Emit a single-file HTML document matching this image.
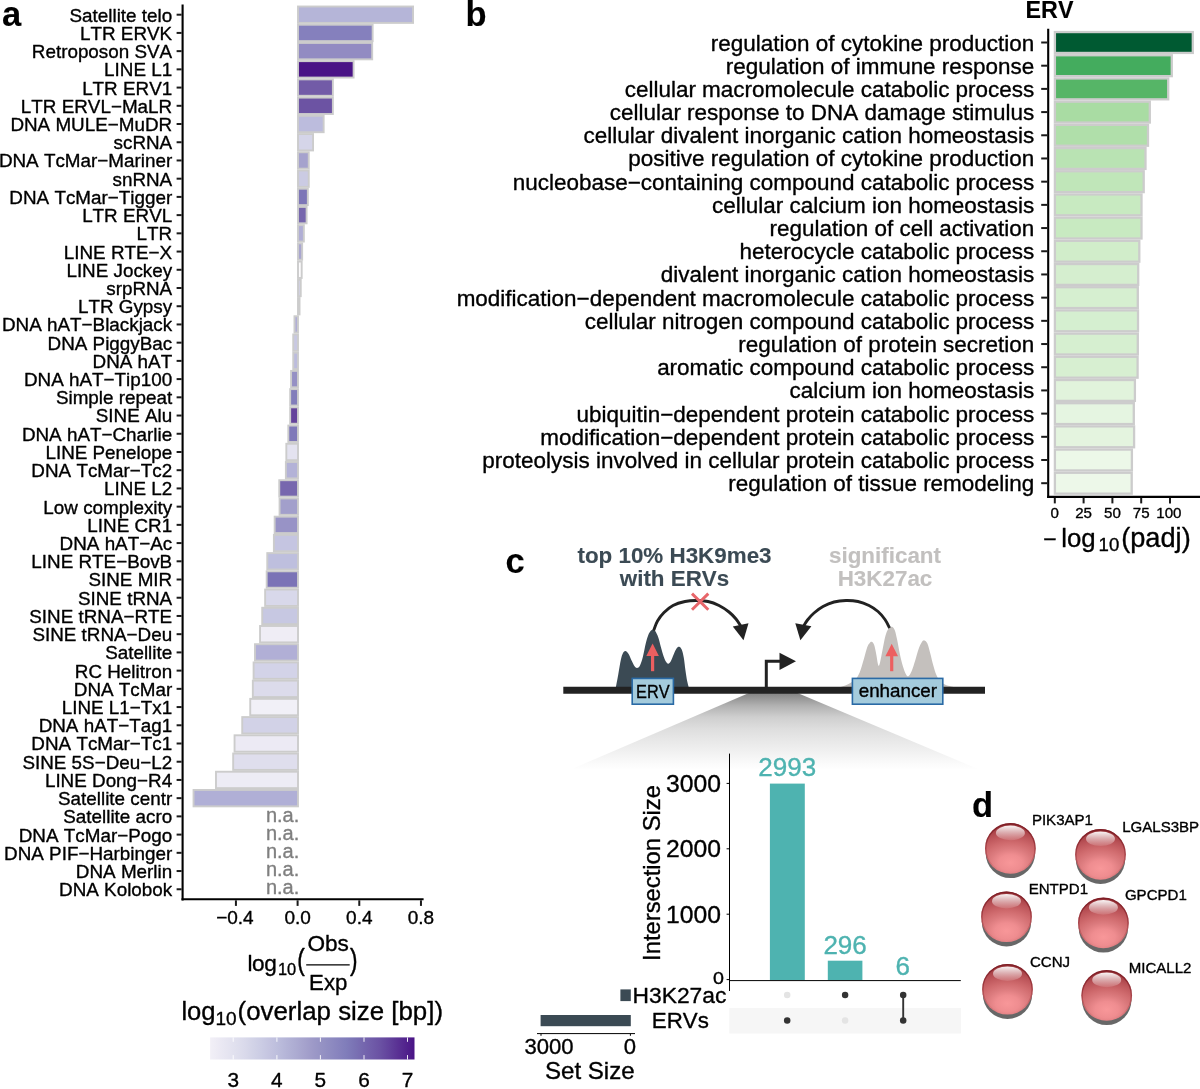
<!DOCTYPE html>
<html lang="en"><head><meta charset="utf-8"><title>Figure</title>
<style>
html,body{margin:0;padding:0;background:#fff;}
svg{display:block;font-family:"Liberation Sans", Arial, Helvetica, sans-serif;font-kerning:none;}
text{fill:currentColor;stroke:currentColor;stroke-width:0.35px;stroke-linejoin:round;}
.b,.b text{stroke-width:0.12px;}
</style></head>
<body>
<svg width="1200" height="1089" viewBox="0 0 1200 1089">
<rect width="1200" height="1089" fill="#fff"/>
<g id="panel-a">
<text x="2" y="26" class="b" font-size="34.5" font-weight="bold">a</text>
<g stroke="#cccccc" stroke-width="1.9">
<rect x="298.00" y="6.50" width="115.05" height="16.40" fill="#b5b5d8"/>
<rect x="298.00" y="24.72" width="74.65" height="16.40" fill="#8580bd"/>
<rect x="298.00" y="42.94" width="74.19" height="16.40" fill="#928bc2"/>
<rect x="298.00" y="61.16" width="55.60" height="16.40" fill="#4a1486"/>
<rect x="298.00" y="79.38" width="34.87" height="16.40" fill="#725ba7"/>
<rect x="298.00" y="97.60" width="34.87" height="16.40" fill="#6c53a3"/>
<rect x="298.00" y="115.82" width="25.65" height="16.40" fill="#bcbcdd"/>
<rect x="298.00" y="134.04" width="15.05" height="16.40" fill="#d5d5e9"/>
<rect x="298.00" y="152.26" width="10.75" height="16.40" fill="#a5a2cd"/>
<rect x="298.00" y="170.48" width="10.75" height="16.40" fill="#cbcbe3"/>
<rect x="298.00" y="188.70" width="9.83" height="16.40" fill="#7d76b7"/>
<rect x="298.00" y="206.92" width="8.60" height="16.40" fill="#7666ad"/>
<rect x="298.00" y="225.14" width="5.84" height="16.40" fill="#b0aed5"/>
<rect x="298.00" y="243.36" width="4.15" height="16.40" fill="#a9a6cf"/>
<rect x="298.00" y="261.58" width="3.69" height="16.40" fill="#fcfbfd"/>
<rect x="298.00" y="279.80" width="2.76" height="16.40" fill="#d0d0e6"/>
<rect x="298.00" y="298.02" width="1.54" height="16.40" fill="#d0d0e6"/>
<rect x="294.47" y="316.24" width="3.53" height="16.40" fill="#b0aed5"/>
<rect x="293.24" y="334.46" width="4.76" height="16.40" fill="#c8c8e2"/>
<rect x="293.24" y="352.68" width="4.76" height="16.40" fill="#bcbcdd"/>
<rect x="291.09" y="370.90" width="6.91" height="16.40" fill="#9590c4"/>
<rect x="290.17" y="389.12" width="7.83" height="16.40" fill="#827dba"/>
<rect x="290.17" y="407.34" width="7.83" height="16.40" fill="#64439b"/>
<rect x="288.32" y="425.56" width="9.68" height="16.40" fill="#7f79b9"/>
<rect x="286.33" y="443.78" width="11.67" height="16.40" fill="#e4e3f0"/>
<rect x="285.87" y="462.00" width="12.13" height="16.40" fill="#b3b2d7"/>
<rect x="279.26" y="480.22" width="18.74" height="16.40" fill="#7767ae"/>
<rect x="279.57" y="498.44" width="18.43" height="16.40" fill="#a29fcb"/>
<rect x="274.65" y="516.66" width="23.35" height="16.40" fill="#9893c6"/>
<rect x="273.88" y="534.88" width="24.12" height="16.40" fill="#c5c5e1"/>
<rect x="267.28" y="553.10" width="30.72" height="16.40" fill="#bebfde"/>
<rect x="266.67" y="571.32" width="31.33" height="16.40" fill="#7b73b6"/>
<rect x="265.13" y="589.54" width="32.87" height="16.40" fill="#d8d8ea"/>
<rect x="262.21" y="607.76" width="35.79" height="16.40" fill="#c7c8e2"/>
<rect x="260.06" y="625.98" width="37.94" height="16.40" fill="#efedf5"/>
<rect x="254.99" y="644.20" width="43.01" height="16.40" fill="#b1afd6"/>
<rect x="253.61" y="662.42" width="44.39" height="16.40" fill="#d3d3e8"/>
<rect x="252.84" y="680.64" width="45.16" height="16.40" fill="#dcdbeb"/>
<rect x="250.23" y="698.86" width="47.77" height="16.40" fill="#f1f0f7"/>
<rect x="242.24" y="717.08" width="55.76" height="16.40" fill="#d2d2e7"/>
<rect x="234.56" y="735.30" width="63.44" height="16.40" fill="#eceaf4"/>
<rect x="233.18" y="753.52" width="64.82" height="16.40" fill="#dfdeed"/>
<rect x="215.98" y="771.74" width="82.02" height="16.40" fill="#edecf5"/>
<rect x="193.55" y="789.96" width="104.45" height="16.40" fill="#b0afd6"/>
</g>
<g font-size="18.85" text-anchor="end">
<text x="172.2" y="21.65">Satellite telo</text>
<text x="172.2" y="39.87">LTR ERVK</text>
<text x="172.2" y="58.09">Retroposon SVA</text>
<text x="172.2" y="76.31">LINE L1</text>
<text x="172.2" y="94.53">LTR ERV1</text>
<text x="172.2" y="112.75">LTR ERVL−MaLR</text>
<text x="172.2" y="130.97">DNA MULE−MuDR</text>
<text x="172.2" y="149.19">scRNA</text>
<text x="172.2" y="167.41">DNA TcMar−Mariner</text>
<text x="172.2" y="185.63">snRNA</text>
<text x="172.2" y="203.85">DNA TcMar−Tigger</text>
<text x="172.2" y="222.07">LTR ERVL</text>
<text x="172.2" y="240.29">LTR</text>
<text x="172.2" y="258.51">LINE RTE−X</text>
<text x="172.2" y="276.73">LINE Jockey</text>
<text x="172.2" y="294.95">srpRNA</text>
<text x="172.2" y="313.17">LTR Gypsy</text>
<text x="172.2" y="331.39">DNA hAT−Blackjack</text>
<text x="172.2" y="349.61">DNA PiggyBac</text>
<text x="172.2" y="367.83">DNA hAT</text>
<text x="172.2" y="386.05">DNA hAT−Tip100</text>
<text x="172.2" y="404.27">Simple repeat</text>
<text x="172.2" y="422.49">SINE Alu</text>
<text x="172.2" y="440.71">DNA hAT−Charlie</text>
<text x="172.2" y="458.93">LINE Penelope</text>
<text x="172.2" y="477.15">DNA TcMar−Tc2</text>
<text x="172.2" y="495.37">LINE L2</text>
<text x="172.2" y="513.59">Low complexity</text>
<text x="172.2" y="531.81">LINE CR1</text>
<text x="172.2" y="550.03">DNA hAT−Ac</text>
<text x="172.2" y="568.25">LINE RTE−BovB</text>
<text x="172.2" y="586.47">SINE MIR</text>
<text x="172.2" y="604.69">SINE tRNA</text>
<text x="172.2" y="622.91">SINE tRNA−RTE</text>
<text x="172.2" y="641.13">SINE tRNA−Deu</text>
<text x="172.2" y="659.35">Satellite</text>
<text x="172.2" y="677.57">RC Helitron</text>
<text x="172.2" y="695.79">DNA TcMar</text>
<text x="172.2" y="714.01">LINE L1−Tx1</text>
<text x="172.2" y="732.23">DNA hAT−Tag1</text>
<text x="172.2" y="750.45">DNA TcMar−Tc1</text>
<text x="172.2" y="768.67">SINE 5S−Deu−L2</text>
<text x="172.2" y="786.89">LINE Dong−R4</text>
<text x="172.2" y="805.11">Satellite centr</text>
<text x="172.2" y="823.33">Satellite acro</text>
<text x="172.2" y="841.55">DNA TcMar−Pogo</text>
<text x="172.2" y="859.77">DNA PIF−Harbinger</text>
<text x="172.2" y="877.99">DNA Merlin</text>
<text x="172.2" y="896.21">DNA Kolobok</text>
</g>
<g font-size="20" text-anchor="end" color="#7f7f7f">
<text x="299.3" y="821.58">n.a.</text>
<text x="299.3" y="839.80">n.a.</text>
<text x="299.3" y="858.02">n.a.</text>
<text x="299.3" y="876.24">n.a.</text>
<text x="299.3" y="894.46">n.a.</text>
</g>
<g stroke="#000" stroke-width="2.1" fill="none">
<path d="M182.6 4.5 V900.4"/>
<path d="M181.5 899.3 H423.6"/>
</g>
<g stroke="#1a1a1a" stroke-width="2" fill="none">
<path d="M176.6 14.70 H181.6"/>
<path d="M176.6 32.92 H181.6"/>
<path d="M176.6 51.14 H181.6"/>
<path d="M176.6 69.36 H181.6"/>
<path d="M176.6 87.58 H181.6"/>
<path d="M176.6 105.80 H181.6"/>
<path d="M176.6 124.02 H181.6"/>
<path d="M176.6 142.24 H181.6"/>
<path d="M176.6 160.46 H181.6"/>
<path d="M176.6 178.68 H181.6"/>
<path d="M176.6 196.90 H181.6"/>
<path d="M176.6 215.12 H181.6"/>
<path d="M176.6 233.34 H181.6"/>
<path d="M176.6 251.56 H181.6"/>
<path d="M176.6 269.78 H181.6"/>
<path d="M176.6 288.00 H181.6"/>
<path d="M176.6 306.22 H181.6"/>
<path d="M176.6 324.44 H181.6"/>
<path d="M176.6 342.66 H181.6"/>
<path d="M176.6 360.88 H181.6"/>
<path d="M176.6 379.10 H181.6"/>
<path d="M176.6 397.32 H181.6"/>
<path d="M176.6 415.54 H181.6"/>
<path d="M176.6 433.76 H181.6"/>
<path d="M176.6 451.98 H181.6"/>
<path d="M176.6 470.20 H181.6"/>
<path d="M176.6 488.42 H181.6"/>
<path d="M176.6 506.64 H181.6"/>
<path d="M176.6 524.86 H181.6"/>
<path d="M176.6 543.08 H181.6"/>
<path d="M176.6 561.30 H181.6"/>
<path d="M176.6 579.52 H181.6"/>
<path d="M176.6 597.74 H181.6"/>
<path d="M176.6 615.96 H181.6"/>
<path d="M176.6 634.18 H181.6"/>
<path d="M176.6 652.40 H181.6"/>
<path d="M176.6 670.62 H181.6"/>
<path d="M176.6 688.84 H181.6"/>
<path d="M176.6 707.06 H181.6"/>
<path d="M176.6 725.28 H181.6"/>
<path d="M176.6 743.50 H181.6"/>
<path d="M176.6 761.72 H181.6"/>
<path d="M176.6 779.94 H181.6"/>
<path d="M176.6 798.16 H181.6"/>
<path d="M176.6 816.38 H181.6"/>
<path d="M176.6 834.60 H181.6"/>
<path d="M176.6 852.82 H181.6"/>
<path d="M176.6 871.04 H181.6"/>
<path d="M176.6 889.26 H181.6"/>
<path d="M235.92 900.3 V905.9"/>
<path d="M297.60 900.3 V905.9"/>
<path d="M359.28 900.3 V905.9"/>
<path d="M420.96 900.3 V905.9"/>
</g>
<g font-size="19" text-anchor="middle">
<text x="234.92" y="923.8">−0.4</text>
<text x="297.60" y="923.8">0.0</text>
<text x="359.28" y="923.8">0.4</text>
<text x="420.96" y="923.8">0.8</text>
</g>
<g font-size="22.6">
<text x="247.4" y="970.7" textLength="29.4" lengthAdjust="spacing">log</text>
<text x="278" y="975" font-size="16.4" textLength="18.2" lengthAdjust="spacing">10</text>
<text transform="translate(297.2 970.4) scale(1 1.3)" font-size="22.6">(</text>
<text transform="translate(350.0 970.4) scale(1 1.3)" font-size="22.6">)</text>
<text x="328.2" y="951" text-anchor="middle" font-size="22.6">Obs</text>
<text x="328.2" y="989.5" text-anchor="middle" font-size="22.2">Exp</text>
<path d="M306.2 964.8 H349.7" stroke="#000" stroke-width="1.3"/>
</g>
<text x="181.4" y="1020.3" font-size="25.6">log</text>
<text x="215.4" y="1025.2" font-size="19">10</text>
<text x="237.6" y="1020.3" font-size="25.85">(overlap size [bp])</text>
<defs><linearGradient id="pg" x1="0" x2="1" y1="0" y2="0">
<stop offset="0.0000" stop-color="#f2f0f7"/>
<stop offset="0.0417" stop-color="#eceaf4"/>
<stop offset="0.0833" stop-color="#e6e5f1"/>
<stop offset="0.1250" stop-color="#e0e0ee"/>
<stop offset="0.1667" stop-color="#dadaeb"/>
<stop offset="0.2083" stop-color="#d2d3e7"/>
<stop offset="0.2500" stop-color="#cbcce4"/>
<stop offset="0.2917" stop-color="#c4c4e0"/>
<stop offset="0.3333" stop-color="#bcbddc"/>
<stop offset="0.3750" stop-color="#b4b4d7"/>
<stop offset="0.4167" stop-color="#adacd2"/>
<stop offset="0.4583" stop-color="#a6a3cd"/>
<stop offset="0.5000" stop-color="#9e9ac8"/>
<stop offset="0.5417" stop-color="#9693c4"/>
<stop offset="0.5833" stop-color="#8f8cc1"/>
<stop offset="0.6250" stop-color="#8884be"/>
<stop offset="0.6667" stop-color="#807dba"/>
<stop offset="0.7083" stop-color="#7a72b4"/>
<stop offset="0.7500" stop-color="#7567ae"/>
<stop offset="0.7917" stop-color="#705ca9"/>
<stop offset="0.8333" stop-color="#6a51a3"/>
<stop offset="0.8750" stop-color="#62429c"/>
<stop offset="0.9167" stop-color="#5a3294"/>
<stop offset="0.9583" stop-color="#52238d"/>
<stop offset="1.0000" stop-color="#4a1486"/>
</linearGradient></defs>
<rect x="210.1" y="1037.4" width="204.4" height="22.1" fill="url(#pg)"/>
<g stroke="#fff" stroke-width="1" opacity="0.9">
<path d="M233.2 1037.4 v4.4 M233.2 1059.5 v-4.4"/>
<path d="M276.9 1037.4 v4.4 M276.9 1059.5 v-4.4"/>
<path d="M320.4 1037.4 v4.4 M320.4 1059.5 v-4.4"/>
<path d="M364.0 1037.4 v4.4 M364.0 1059.5 v-4.4"/>
<path d="M407.5 1037.4 v4.4 M407.5 1059.5 v-4.4"/>
</g>
<g font-size="20.8" text-anchor="middle">
<text x="233.2" y="1086.8">3</text>
<text x="276.9" y="1086.8">4</text>
<text x="320.4" y="1086.8">5</text>
<text x="364.0" y="1086.8">6</text>
<text x="407.5" y="1086.8">7</text>
</g>
</g>
<g id="panel-b">
<text x="465.5" y="25.7" class="b" font-size="34.5" font-weight="bold">b</text>
<text x="1049.5" y="17.6" class="b" font-size="23.3" font-weight="bold" text-anchor="middle">ERV</text>
<g stroke="#cccccc" stroke-width="2.3">
<rect x="1054.90" y="32.06" width="137.90" height="20.88" fill="#005a32"/>
<rect x="1054.90" y="55.26" width="116.90" height="20.88" fill="#44ac5e"/>
<rect x="1054.90" y="78.45" width="113.30" height="20.88" fill="#56b567"/>
<rect x="1054.90" y="101.65" width="94.90" height="20.88" fill="#a9dca3"/>
<rect x="1054.90" y="124.84" width="93.10" height="20.88" fill="#b0dfaa"/>
<rect x="1054.90" y="148.04" width="90.60" height="20.88" fill="#b9e3b3"/>
<rect x="1054.90" y="171.23" width="88.80" height="20.88" fill="#c0e6b9"/>
<rect x="1054.90" y="194.43" width="86.60" height="20.88" fill="#c8eac1"/>
<rect x="1054.90" y="217.62" width="86.60" height="20.88" fill="#c8eac1"/>
<rect x="1054.90" y="240.82" width="84.40" height="20.88" fill="#d1edca"/>
<rect x="1054.90" y="264.01" width="83.30" height="20.88" fill="#d5eecf"/>
<rect x="1054.90" y="287.21" width="82.90" height="20.88" fill="#d6efd0"/>
<rect x="1054.90" y="310.40" width="83.10" height="20.88" fill="#d5efd0"/>
<rect x="1054.90" y="333.60" width="82.90" height="20.88" fill="#d6efd0"/>
<rect x="1054.90" y="356.79" width="82.70" height="20.88" fill="#d7efd1"/>
<rect x="1054.90" y="379.99" width="80.00" height="20.88" fill="#e1f3dc"/>
<rect x="1054.90" y="403.18" width="78.90" height="20.88" fill="#e5f5e1"/>
<rect x="1054.90" y="426.38" width="79.20" height="20.88" fill="#e4f4df"/>
<rect x="1054.90" y="449.57" width="77.00" height="20.88" fill="#ecf8e8"/>
<rect x="1054.90" y="472.77" width="76.80" height="20.88" fill="#edf8e9"/>
</g>
<g font-size="22.48" text-anchor="end">
<text x="1034.3" y="50.50">regulation of cytokine production</text>
<text x="1034.3" y="73.69">regulation of immune response</text>
<text x="1034.3" y="96.89">cellular macromolecule catabolic process</text>
<text x="1034.3" y="120.09">cellular response to DNA damage stimulus</text>
<text x="1034.3" y="143.28">cellular divalent inorganic cation homeostasis</text>
<text x="1034.3" y="166.47">positive regulation of cytokine production</text>
<text x="1034.3" y="189.67">nucleobase−containing compound catabolic process</text>
<text x="1034.3" y="212.87">cellular calcium ion homeostasis</text>
<text x="1034.3" y="236.06">regulation of cell activation</text>
<text x="1034.3" y="259.25">heterocycle catabolic process</text>
<text x="1034.3" y="282.45">divalent inorganic cation homeostasis</text>
<text x="1034.3" y="305.64">modification−dependent macromolecule catabolic process</text>
<text x="1034.3" y="328.84">cellular nitrogen compound catabolic process</text>
<text x="1034.3" y="352.04">regulation of protein secretion</text>
<text x="1034.3" y="375.23">aromatic compound catabolic process</text>
<text x="1034.3" y="398.43">calcium ion homeostasis</text>
<text x="1034.3" y="421.62">ubiquitin−dependent protein catabolic process</text>
<text x="1034.3" y="444.81">modification−dependent protein catabolic process</text>
<text x="1034.3" y="468.01">proteolysis involved in cellular protein catabolic process</text>
<text x="1034.3" y="491.20">regulation of tissue remodeling</text>
</g>
<g stroke="#000" stroke-width="2.1" fill="none">
<path d="M1048.2 28.7 V497.9"/>
<path d="M1047.15 496.85 H1200"/>
</g>
<g stroke="#1a1a1a" stroke-width="2" fill="none">
<path d="M1041.2 42.50 H1047.2"/>
<path d="M1041.2 65.69 H1047.2"/>
<path d="M1041.2 88.89 H1047.2"/>
<path d="M1041.2 112.09 H1047.2"/>
<path d="M1041.2 135.28 H1047.2"/>
<path d="M1041.2 158.47 H1047.2"/>
<path d="M1041.2 181.67 H1047.2"/>
<path d="M1041.2 204.87 H1047.2"/>
<path d="M1041.2 228.06 H1047.2"/>
<path d="M1041.2 251.25 H1047.2"/>
<path d="M1041.2 274.45 H1047.2"/>
<path d="M1041.2 297.64 H1047.2"/>
<path d="M1041.2 320.84 H1047.2"/>
<path d="M1041.2 344.04 H1047.2"/>
<path d="M1041.2 367.23 H1047.2"/>
<path d="M1041.2 390.43 H1047.2"/>
<path d="M1041.2 413.62 H1047.2"/>
<path d="M1041.2 436.81 H1047.2"/>
<path d="M1041.2 460.01 H1047.2"/>
<path d="M1041.2 483.20 H1047.2"/>
<path d="M1054.80 497.8 V503.4"/>
<path d="M1083.60 497.8 V503.4"/>
<path d="M1112.40 497.8 V503.4"/>
<path d="M1141.20 497.8 V503.4"/>
<path d="M1170.00 497.8 V503.4"/>
</g>
<g font-size="15.1" text-anchor="middle">
<text x="1054.80" y="518">0</text>
<text x="1083.60" y="518">25</text>
<text x="1112.40" y="518">50</text>
<text x="1141.20" y="518">75</text>
<text x="1168.90" y="518">100</text>
</g>
<text x="1043.3" y="546.5" font-size="23">−</text>
<text x="1061.2" y="546.5" font-size="25.8">log</text>
<text x="1098.6" y="551.2" font-size="18.6">10</text>
<text x="1121.2" y="546.5" font-size="27.2">(padj)</text>
</g>
<g id="panel-c">
<text x="505.5" y="572.5" class="b" font-size="34.5" font-weight="bold">c</text>
<defs><linearGradient id="tg" x1="0" x2="0" y1="0" y2="1"><stop offset="0" stop-color="#7c7c7c"/><stop offset="0.06" stop-color="#8a8a8a"/><stop offset="0.18" stop-color="#b0b0b0"/><stop offset="0.32" stop-color="#cfcfcf"/><stop offset="0.46" stop-color="#dedede"/><stop offset="0.58" stop-color="#e7e7e7"/><stop offset="0.76" stop-color="#f3f3f3"/><stop offset="0.87" stop-color="#fbfbfb"/><stop offset="0.94" stop-color="#ffffff"/><stop offset="1" stop-color="#ffffff"/></linearGradient></defs>
<path d="M755.9 690 L790.4 690 L992.3 775 L557.8 775 Z" fill="url(#tg)"/>
<g class="b" font-weight="bold" font-size="22.4" text-anchor="middle">
<text x="674.5" y="562.5" color="#3b4a54">top 10% H3K9me3</text>
<text x="674.5" y="585.5" color="#3b4a54">with ERVs</text>
<text x="885" y="562.5" color="#c2c0bf">significant</text>
<text x="885" y="585.5" color="#c2c0bf">H3K27ac</text>
</g>
<path d="M615.80 687.50 C616.22 685.28 617.47 678.78 618.30 674.20 C619.13 669.62 620.03 663.48 620.80 660.00 C621.57 656.52 622.13 654.80 622.90 653.30 C623.67 651.80 624.42 650.85 625.40 651.00 C626.38 651.15 627.70 652.57 628.75 654.20 C629.80 655.83 630.73 658.79 631.70 660.80 C632.68 662.81 633.70 665.07 634.60 666.25 C635.50 667.43 636.20 668.04 637.10 667.90 C638.00 667.76 639.03 667.27 640.00 665.40 C640.97 663.53 641.93 660.38 642.90 656.70 C643.87 653.02 644.90 646.92 645.80 643.30 C646.70 639.68 647.47 637.08 648.30 635.00 C649.13 632.92 650.03 631.67 650.80 630.80 C651.57 629.93 652.13 629.72 652.90 629.80 C653.67 629.88 654.50 629.97 655.40 631.25 C656.30 632.53 657.40 634.92 658.30 637.50 C659.20 640.08 659.89 643.50 660.80 646.70 C661.71 649.90 662.84 654.13 663.75 656.70 C664.66 659.27 665.49 660.93 666.25 662.10 C667.01 663.27 667.54 663.89 668.30 663.75 C669.06 663.61 669.89 662.84 670.80 661.25 C671.71 659.66 672.77 656.36 673.75 654.20 C674.73 652.04 675.79 649.53 676.70 648.30 C677.61 647.07 678.37 646.58 679.20 646.80 C680.03 647.02 680.94 647.82 681.70 649.60 C682.46 651.38 683.13 654.10 683.75 657.50 C684.37 660.90 684.84 666.12 685.40 670.00 C685.96 673.88 686.54 677.88 687.10 680.80 C687.66 683.72 688.48 686.38 688.75 687.50 Z" fill="#3b4a54"/>
<path d="M839.30 687.50 C840.67 686.98 844.87 685.69 847.50 684.40 C850.13 683.11 853.06 681.78 855.10 679.75 C857.14 677.72 858.30 675.61 859.75 672.20 C861.20 668.79 862.54 663.48 863.80 659.30 C865.06 655.12 866.32 649.82 867.30 647.10 C868.28 644.38 868.98 643.88 869.70 643.00 C870.43 642.12 870.92 641.51 871.65 641.80 C872.38 642.09 873.36 642.80 874.10 644.75 C874.84 646.70 875.48 650.39 876.10 653.50 C876.72 656.61 877.35 661.36 877.80 663.40 C878.25 665.44 878.40 666.03 878.80 665.75 C879.20 665.47 879.58 664.33 880.20 661.70 C880.82 659.08 881.63 654.28 882.50 650.00 C883.37 645.72 884.43 639.50 885.40 636.00 C886.37 632.50 887.23 630.55 888.30 629.00 C889.37 627.45 890.72 626.50 891.80 626.70 C892.88 626.90 893.87 628.07 894.75 630.20 C895.63 632.33 896.23 635.42 897.10 639.50 C897.98 643.58 899.03 650.23 900.00 654.70 C900.97 659.17 901.93 663.10 902.90 666.30 C903.87 669.50 904.88 672.24 905.80 673.90 C906.72 675.56 907.42 676.73 908.40 676.25 C909.38 675.77 910.57 673.62 911.70 671.00 C912.83 668.38 914.03 664.20 915.20 660.50 C916.37 656.80 917.63 651.82 918.70 648.80 C919.77 645.78 920.67 643.80 921.60 642.40 C922.53 641.00 923.33 640.20 924.30 640.40 C925.27 640.60 926.40 641.42 927.40 643.60 C928.40 645.78 929.32 649.90 930.30 653.50 C931.27 657.10 932.27 661.70 933.25 665.20 C934.23 668.70 935.12 671.88 936.20 674.50 C937.28 677.12 938.25 679.25 939.70 680.90 C941.15 682.55 942.97 683.48 944.90 684.40 C946.83 685.32 949.45 685.88 951.30 686.40 C953.15 686.92 955.22 687.32 956.00 687.50 Z" fill="#c4c0bd"/>
<path d="M563.3 690.2 H985" stroke="#222222" stroke-width="7"/>
<path d="M766.3 688 V661.2 H781" stroke="#222" stroke-width="3" fill="none"/>
<path d="M779.5 652.8 L796 661.3 L779.5 670 Z" fill="#222"/>
<path d="M653.60 630.50 C654.25 628.92 655.77 624.00 657.50 621.00 C659.23 618.00 661.42 615.08 664.00 612.50 C666.58 609.92 669.50 607.33 673.00 605.50 C676.50 603.67 681.17 602.33 685.00 601.50 C688.83 600.67 692.17 600.50 696.00 600.50 C699.83 600.50 704.17 600.67 708.00 601.50 C711.83 602.33 715.50 603.75 719.00 605.50 C722.50 607.25 726.17 609.75 729.00 612.00 C731.83 614.25 734.03 616.67 736.00 619.00 C737.97 621.33 740.00 624.83 740.80 626.00" stroke="#222" stroke-width="2.9" fill="none"/>
<path d="M743.5 640.2 L732.8 626.6 L748.5 623.3 Z" fill="#222"/>
<path d="M889.60 628.00 C888.83 626.58 886.93 622.25 885.00 619.50 C883.07 616.75 880.67 613.83 878.00 611.50 C875.33 609.17 872.33 607.17 869.00 605.50 C865.67 603.83 861.83 602.33 858.00 601.50 C854.17 600.67 850.00 600.42 846.00 600.50 C842.00 600.58 837.83 601.00 834.00 602.00 C830.17 603.00 826.33 604.67 823.00 606.50 C819.67 608.33 816.58 610.75 814.00 613.00 C811.42 615.25 809.23 617.83 807.50 620.00 C805.77 622.17 804.25 625.00 803.60 626.00" stroke="#222" stroke-width="2.9" fill="none"/>
<path d="M800.4 640.2 L795.3 623.3 L811.4 626.3 Z" fill="#222"/>
<path d="M692 593.6 L708.3 609.8 M708.3 593.6 L692 609.8" stroke="#e8666a" stroke-width="2.9" fill="none"/>
<path d="M652.6 671.2 V654.6" stroke="#ec5f60" stroke-width="3.2"/>
<path d="M652.6 643.6 L646.3 656.0 L658.9 656.0 Z" fill="#ec5f60"/>
<path d="M891.7 671.2 V654.8" stroke="#ec5f60" stroke-width="3.2"/>
<path d="M891.7 643.8 L885.4 656.2 L898.0 656.2 Z" fill="#ec5f60"/>
<rect x="632.2" y="678.4" width="41.2" height="25.8" fill="#a4cbdc" stroke="#2a6aa5" stroke-width="1.6"/>
<text x="652.8" y="697.6" font-size="17.8" text-anchor="middle" textLength="33.6" lengthAdjust="spacingAndGlyphs">ERV</text>
<rect x="852.4" y="678.4" width="90.4" height="25.8" fill="#a4cbdc" stroke="#2a6aa5" stroke-width="1.6"/>
<text x="897.9" y="697.2" font-size="18.2" text-anchor="middle" textLength="78.4" lengthAdjust="spacingAndGlyphs">enhancer</text>
<rect x="729.3" y="1008" width="231.6" height="25.5" fill="#f6f6f6"/>
<rect x="769.9" y="783.6" width="34.9" height="196.4" fill="#4eb3b0"/>
<rect x="827.8" y="960.7" width="34.6" height="19.4" fill="#4eb3b0"/>
<g color="#4eb3b0" font-size="26" text-anchor="middle">
<text x="787.2" y="776.3">2993</text>
<text x="845.1" y="953.6">296</text>
<text x="902.8" y="974.7">6</text>
</g>
<g stroke="#000" stroke-width="1" fill="none">
<path d="M729.5 753.6 V991"/>
<path d="M729 980.6 H960.8"/>
<path d="M726.6 783.4 H729.5"/>
<path d="M726.6 848.8 H729.5"/>
<path d="M726.6 914.2 H729.5"/>
<path d="M726.6 979.6 H729.5"/>
</g>
<g font-size="24.7" text-anchor="end">
<text x="720.9" y="791.8">3000</text>
<text x="720.9" y="857.2">2000</text>
<text x="720.9" y="922.6">1000</text>
</g>
<text transform="translate(723.9 984.2) scale(1.2 1)" font-size="16.4" text-anchor="end">0</text>
<text transform="translate(660.3 873) rotate(-90)" font-size="23.8" text-anchor="middle">Intersection Size</text>
<circle cx="787.2" cy="994.9" r="3.25" fill="#e4e4e4"/>
<circle cx="787.2" cy="1020.6" r="3.25" fill="#333333"/>
<circle cx="845.1" cy="994.9" r="3.25" fill="#333333"/>
<circle cx="845.1" cy="1020.6" r="3.25" fill="#e4e4e4"/>
<circle cx="903.2" cy="994.9" r="3.25" fill="#333333"/>
<circle cx="903.2" cy="1020.6" r="3.25" fill="#333333"/>
<path d="M903.2 994.9 V1020.6" stroke="#333" stroke-width="1.9"/>
<text x="632.6" y="1002.6" font-size="22.8">H3K27ac</text>
<text x="651.8" y="1028.2" font-size="22.3">ERVs</text>
<rect x="620.4" y="989.4" width="10.4" height="11.7" fill="#3b4a54"/>
<rect x="540.6" y="1015" width="90.2" height="11.2" fill="#3b4a54"/>
<path d="M537 1033.6 H635 M541 1033.6 V1035.8 M630.4 1033.6 V1035.8" stroke="#000" stroke-width="1" fill="none"/>
<text x="549" y="1054.3" font-size="22.1" text-anchor="middle">3000</text>
<text x="630" y="1054.3" font-size="22.1" text-anchor="middle">0</text>
<text x="589.8" y="1078.5" font-size="24.1" text-anchor="middle">Set Size</text>
</g>
<g id="panel-d">
<text x="972" y="816.6" class="b" font-size="34.5" font-weight="bold">d</text>
<defs>
<radialGradient id="sg" cx="0.5" cy="0.78" r="0.8" fx="0.5" fy="0.78" gradientTransform="translate(0.5 0) scale(1.45 1) translate(-0.5 0)">
<stop offset="0" stop-color="#f89799"/><stop offset="0.2" stop-color="#ef8d90"/><stop offset="0.35" stop-color="#dc7b7e"/><stop offset="0.5" stop-color="#cf6a6d"/><stop offset="0.7" stop-color="#ba5257"/><stop offset="0.85" stop-color="#a53f44"/><stop offset="1" stop-color="#8a262b"/>
</radialGradient>
<linearGradient id="rg" x1="0" x2="0" y1="0" y2="1"><stop offset="0" stop-color="#7d1c24" stop-opacity="0.95"/><stop offset="0.5" stop-color="#8e2a31" stop-opacity="0.6"/><stop offset="0.85" stop-color="#a33c42" stop-opacity="0.15"/><stop offset="1" stop-color="#a33c42" stop-opacity="0"/></linearGradient>
<linearGradient id="hg" x1="0" x2="0" y1="0" y2="1"><stop offset="0" stop-color="#fff" stop-opacity="0.95"/><stop offset="1" stop-color="#fff" stop-opacity="0.1"/></linearGradient>
</defs>
<circle cx="1010.4" cy="853.4" r="24.7" fill="#676767"/>
<circle cx="1010.4" cy="848.5" r="25.3" fill="url(#sg)"/>
<circle cx="1010.4" cy="848.5" r="24.7" fill="none" stroke="url(#rg)" stroke-width="1.4"/>
<ellipse cx="1010.4" cy="832.9" rx="14.5" ry="7.3" fill="url(#hg)"/>
<text x="1031.9" y="825.0" font-size="15.05">PIK3AP1</text>
<circle cx="1100.5" cy="859.3" r="24.7" fill="#676767"/>
<circle cx="1100.5" cy="854.4" r="25.3" fill="url(#sg)"/>
<circle cx="1100.5" cy="854.4" r="24.7" fill="none" stroke="url(#rg)" stroke-width="1.4"/>
<ellipse cx="1100.5" cy="838.8" rx="14.5" ry="7.3" fill="url(#hg)"/>
<text x="1122.2" y="832.0" font-size="15.05">LGALS3BP</text>
<circle cx="1006.5" cy="921.7" r="24.7" fill="#676767"/>
<circle cx="1006.5" cy="916.8" r="25.3" fill="url(#sg)"/>
<circle cx="1006.5" cy="916.8" r="24.7" fill="none" stroke="url(#rg)" stroke-width="1.4"/>
<ellipse cx="1006.5" cy="901.2" rx="14.5" ry="7.3" fill="url(#hg)"/>
<text x="1028.7" y="894.0" font-size="15.05">ENTPD1</text>
<circle cx="1103.4" cy="927.9" r="24.7" fill="#676767"/>
<circle cx="1103.4" cy="923.0" r="25.3" fill="url(#sg)"/>
<circle cx="1103.4" cy="923.0" r="24.7" fill="none" stroke="url(#rg)" stroke-width="1.4"/>
<ellipse cx="1103.4" cy="907.4" rx="14.5" ry="7.3" fill="url(#hg)"/>
<text x="1124.9" y="900.2" font-size="15.05">GPCPD1</text>
<circle cx="1007.5" cy="994.2" r="24.7" fill="#676767"/>
<circle cx="1007.5" cy="989.3" r="25.3" fill="url(#sg)"/>
<circle cx="1007.5" cy="989.3" r="24.7" fill="none" stroke="url(#rg)" stroke-width="1.4"/>
<ellipse cx="1007.5" cy="973.7" rx="14.5" ry="7.3" fill="url(#hg)"/>
<text x="1030.0" y="966.6" font-size="15.05">CCNJ</text>
<circle cx="1106.7" cy="1000.4" r="24.7" fill="#676767"/>
<circle cx="1106.7" cy="995.5" r="25.3" fill="url(#sg)"/>
<circle cx="1106.7" cy="995.5" r="24.7" fill="none" stroke="url(#rg)" stroke-width="1.4"/>
<ellipse cx="1106.7" cy="979.9" rx="14.5" ry="7.3" fill="url(#hg)"/>
<text x="1128.7" y="972.8" font-size="15.05">MICALL2</text>
</g>
</svg>
</body></html>
